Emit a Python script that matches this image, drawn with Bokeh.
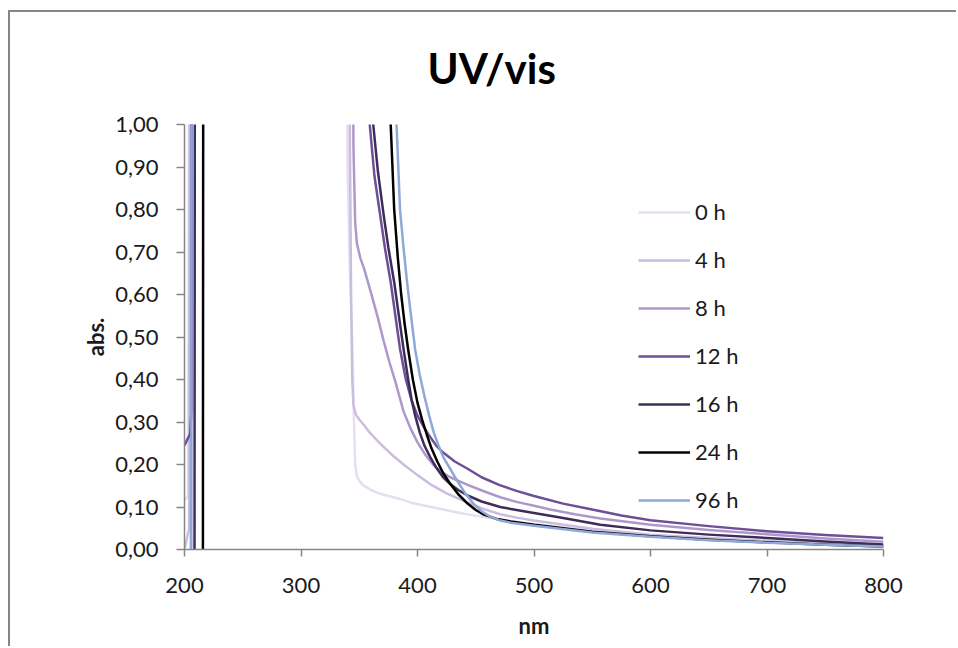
from bokeh.plotting import figure
from bokeh.models import Range1d, FixedTicker, Legend, LegendItem
from bokeh.embed import file_html
from bokeh.resources import INLINE

# ---------------- data ----------------
chart_title = "UV/vis"
series_names = ["0 h", "4 h", "8 h", "12 h", "16 h", "24 h", "96 h"]
series_colors = ["#e4dfee", "#cbbddf", "#ae98cb", "#6e4f97", "#3e2c59", "#000000", "#8fa9d6"]

nm_0h = [200, 203, 206, 250, 300, 338, 340, 342, 344, 345.5, 346.5, 348, 350, 353, 360, 368, 385, 397, 414, 440, 460, 480, 500, 550, 600, 650, 700, 750, 800]
abs_0h = [0.115, 0.127, 3.5, 3.5, 3.5, 3.5, 0.9, 0.65, 0.485, 0.3, 0.2, 0.172, 0.162, 0.152, 0.14, 0.131, 0.119, 0.108, 0.099, 0.084, 0.075, 0.067, 0.060, 0.045, 0.033, 0.025, 0.018, 0.012, 0.008]

nm_4h = [200, 204, 205.5, 250, 300, 340, 342, 343, 344, 345, 347, 350, 354, 360, 368, 378, 388, 400, 412, 425, 440, 455, 471, 485, 500, 550, 600, 650, 700, 750, 800]
abs_4h = [0.0, 0.05, 3.5, 3.5, 3.5, 3.5, 0.95, 0.6, 0.4, 0.34, 0.318, 0.306, 0.293, 0.272, 0.249, 0.223, 0.2, 0.175, 0.152, 0.132, 0.114, 0.097, 0.083, 0.075, 0.068, 0.049, 0.035, 0.027, 0.020, 0.014, 0.010]

nm_8h = [200, 205.5, 206.5, 250, 300, 343, 345, 346.5, 348, 351, 354, 360, 366, 371, 376, 381, 388, 394, 400, 407, 414, 420, 428, 443, 457, 471, 485, 500, 514, 535, 557, 600, 650, 700, 750, 800]
abs_8h = [-0.05, -0.02, 3.5, 3.5, 3.5, 3.5, 0.95, 0.77, 0.72, 0.685, 0.662, 0.605, 0.545, 0.49, 0.44, 0.395, 0.325, 0.285, 0.252, 0.222, 0.198, 0.184, 0.17, 0.152, 0.137, 0.123, 0.112, 0.103, 0.094, 0.083, 0.073, 0.058, 0.046, 0.036, 0.026, 0.018]

nm_12h = [200, 203, 204.9, 206, 207, 250, 300, 357, 359, 363, 368, 372, 377, 381, 385, 390, 395, 400, 405, 410, 416, 422, 432, 443, 455, 470, 485, 500, 525, 550, 575, 600, 650, 700, 750, 800]
abs_12h = [0.245, 0.262, 0.272, 0.33, 3.5, 3.5, 3.5, 3.5, 1.0, 0.88, 0.786, 0.71, 0.629, 0.55, 0.472, 0.40, 0.35, 0.315, 0.29, 0.268, 0.245, 0.228, 0.207, 0.19, 0.17, 0.152, 0.138, 0.126, 0.108, 0.094, 0.08, 0.069, 0.055, 0.043, 0.034, 0.027]

nm_16h = [200, 208.6, 209.4, 250, 300, 360, 362, 366, 371, 375, 380, 384, 388, 392, 395, 398, 402, 406, 411, 416, 422, 428, 435, 443, 455, 471, 485, 500, 525, 557, 600, 650, 700, 750, 800]
abs_16h = [-0.05, -0.02, 3.5, 3.5, 3.5, 3.5, 1.0, 0.89, 0.786, 0.71, 0.629, 0.55, 0.472, 0.4, 0.352, 0.315, 0.275, 0.244, 0.217, 0.193, 0.17, 0.154, 0.14, 0.127, 0.113, 0.1, 0.093, 0.086, 0.074, 0.058, 0.045, 0.035, 0.027, 0.019, 0.012]

nm_24h = [200, 215.8, 216.6, 250, 300, 375, 377, 380, 383, 386, 389, 392, 396, 400, 404, 408, 412, 417, 422, 428, 435, 443, 450, 457, 468, 480, 500, 550, 600, 650, 700, 750, 800]
abs_24h = [-0.05, -0.02, 3.5, 3.5, 3.5, 3.5, 1.0, 0.8, 0.69, 0.6, 0.53, 0.47, 0.4, 0.345, 0.305, 0.27, 0.238, 0.207, 0.18, 0.155, 0.13, 0.108, 0.093, 0.082, 0.072, 0.066, 0.058, 0.042, 0.031, 0.023, 0.017, 0.011, 0.007]

nm_96h = [200, 205.8, 206.8, 250, 300, 380, 382, 385, 388, 391, 394, 398, 402, 406, 410, 414, 418, 422, 428, 434, 441, 448, 455, 462, 470, 480, 500, 550, 600, 650, 700, 750, 800]
abs_96h = [-0.05, -0.02, 3.5, 3.5, 3.5, 3.5, 1.0, 0.8, 0.71, 0.63, 0.56, 0.47, 0.41, 0.36, 0.315, 0.275, 0.245, 0.218, 0.19, 0.162, 0.132, 0.108, 0.09, 0.078, 0.069, 0.063, 0.056, 0.04, 0.03, 0.022, 0.016, 0.011, 0.007]

x_ticks = [200, 300, 400, 500, 600, 700, 800]
y_ticks = [0.0, 0.1, 0.2, 0.3, 0.4, 0.5, 0.6, 0.7, 0.8, 0.9, 1.0]
y_tick_labels = ["0,00", "0,10", "0,20", "0,30", "0,40", "0,50", "0,60", "0,70", "0,80", "0,90", "1,00"]

series_x = [nm_0h, nm_4h, nm_8h, nm_12h, nm_16h, nm_24h, nm_96h]
series_y = [abs_0h, abs_4h, abs_8h, abs_12h, abs_16h, abs_24h, abs_96h]

# ---------------- figure ----------------
FONT = "Lato"
AXIS_GRAY = "#868686"
TEXT = "#1a1a1a"

p = figure(width=948, height=636,
           x_range=Range1d(200, 800), y_range=Range1d(0, 1),
           output_backend="svg", toolbar_location=None,
           min_border_left=174, min_border_right=75,
           min_border_top=112, min_border_bottom=99,
           title=chart_title)
p.styles = {"margin-left": "8px", "margin-top": "10px",
            "border-left": f"2px solid {AXIS_GRAY}",
            "border-top": f"2px solid {AXIS_GRAY}"}

p.title.text_font = FONT
p.title.text_font_size = "42px"
p.title.text_font_style = "bold"
p.title.text_color = "#000000"
p.title.align = "left"
p.title.offset = 243
p.title.vertical_align = "top"
p.title.standoff = 60

p.xgrid.visible = False
p.ygrid.visible = False
p.outline_line_color = None

for ax in (p.xaxis[0], p.yaxis[0]):
    ax.axis_line_color = AXIS_GRAY
    ax.axis_line_width = 1.5
    ax.major_tick_line_color = AXIS_GRAY
    ax.major_tick_line_width = 1.5
    ax.minor_tick_line_color = None
    ax.major_tick_in = 0
    ax.major_label_text_font = FONT
    ax.major_label_text_font_size = "22px"
    ax.major_label_text_color = TEXT
    ax.axis_label_text_font = FONT
    ax.axis_label_text_font_size = "22px"
    ax.axis_label_text_font_style = "bold"
    ax.axis_label_text_color = TEXT

p.xaxis.ticker = FixedTicker(ticks=x_ticks)
p.xaxis.major_tick_out = 7
p.xaxis.major_label_standoff = 21
p.xaxis.axis_label = "nm"
p.xaxis.axis_label_standoff = 16

p.yaxis.ticker = FixedTicker(ticks=y_ticks)
p.yaxis.major_label_overrides = dict(zip(y_ticks, y_tick_labels))
p.yaxis.major_tick_out = 8
p.yaxis.major_label_standoff = 18
p.yaxis.axis_label = "abs."
p.yaxis.axis_label_standoff = 3

items = []
for name, color, xs, ys in zip(series_names, series_colors, series_x, series_y):
    r = p.line(xs, ys, line_color=color, line_width=2.5, line_join="round")
    items.append(LegendItem(label=name, renderers=[r]))

legend = Legend(items=items, location=(454, 36),
                background_fill_alpha=0, border_line_color=None,
                glyph_width=52, glyph_height=26, label_height=26,
                spacing=21, padding=0, margin=0, label_standoff=5,
                label_text_font=FONT, label_text_font_size="22px",
                label_text_color=TEXT)
p.add_layout(legend)

open("out.html", "w").write(file_html(p, INLINE))
